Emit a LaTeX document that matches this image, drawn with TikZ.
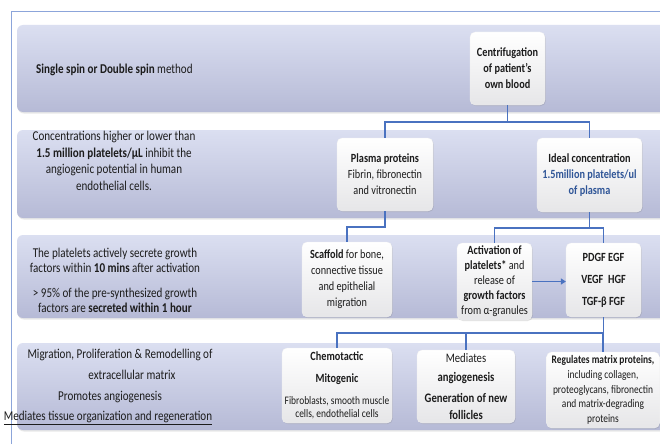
\documentclass[tikz,border=0pt]{standalone}
\usepackage{fontspec}
\setmainfont[FakeStretch=0.82]{Carlito}
\usetikzlibrary{shadows,arrows.meta}
\definecolor{bandtop}{RGB}{219,223,241}
\definecolor{bandbot}{RGB}{182,186,214}
\definecolor{connc}{RGB}{74,114,192}
\definecolor{framec}{RGB}{140,165,218}
\definecolor{boxbot}{RGB}{230,230,232}
\definecolor{txt}{RGB}{28,28,28}
\definecolor{idblue}{RGB}{47,85,151}
\newcommand\myfs[2]{\fontsize{#1}{#2}\selectfont}
\begin{document}
\begin{tikzpicture}[x=1pt,y=-1pt,
  band/.style={top color=bandtop,bottom color=bandbot,draw=none,rounded corners=6pt,
    drop shadow={opacity=0.18,shadow xshift=0.8pt,shadow yshift=-1.5pt}},
  box/.style={rectangle,rounded corners=5pt,top color=white,bottom color=boxbot,
    draw=white!88!gray,line width=0.3pt,align=center,inner sep=1pt,text=txt,
    drop shadow={opacity=0.22,shadow xshift=0.8pt,shadow yshift=-1pt}},
  bandtext/.style={align=center,text=txt,inner sep=0pt,font=\myfs{13.5}{16.5}},
  link/.style={draw=connc,line width=1.4pt},
]
\useasboundingbox (0,0) rectangle (660,444);
\fill[white] (0,0) rectangle (660,444);
% frame
\draw[framec,line width=0.9pt] (11,444) -- (11,11) -- (662,11);
% bands
\path[band] (17,25) rectangle (680,112);
\path[band] (17,130) rectangle (680,218);
\path[band] (17,235) rectangle (680,318);
\path[band] (17,343) rectangle (680,430);

% band texts
\node[bandtext,anchor=west] (t1) at (36,70) {\textbf{Single spin or Double spin} method};
\node[bandtext] (t2) at (114,161) {Concentrations higher or lower than\\
  \textbf{1.5 million platelets/µL} inhibit the\\angiogenic potential in human\\endothelial cells.};
\node[bandtext,font=\myfs{13.5}{15}] (t3) at (115,280) {The platelets actively secrete growth\\
  factors within \textbf{10 mins} after activation\\[10pt]
  > 95\% of the pre-synthesized growth\\factors are \textbf{secreted within 1 hour}};
\node[bandtext] (t4a) at (120,355) {Migration, Proliferation \& Remodelling of};
\node[bandtext] (t4b) at (132,375) {extracellular matrix};
\node[bandtext] (t4c) at (110,397) {Promotes angiogenesis};
\node[bandtext] (t4d) at (108,418) {\underline{Mediates tissue organization and regeneration}};

% boxes
\node[box,minimum width=75pt,minimum height=73pt,font=\myfs{12.5}{16}\bfseries] (cen) at (507.5,68.5)
  {Centrifugation\\of patient’s\\own blood};
\node[box,minimum width=96pt,minimum height=73pt,font=\myfs{12.5}{16}] (pla) at (385,174.5)
  {\textbf{Plasma proteins}\\Fibrin, fibronectin\\and vitronectin};
\node[box,minimum width=105pt,minimum height=74pt,font=\myfs{12.5}{16}] (ide) at (589.5,175)
  {\textbf{Ideal concentration}\\\textcolor{idblue}{\textbf{1.5million platelets/ul}}\\\textcolor{idblue}{\textbf{of plasma}}};
\node[box,minimum width=90pt,minimum height=75pt,font=\myfs{12.5}{16}] (sca) at (347,279.5)
  {\textbf{Scaffold} for bone,\\connective tissue\\and epithelial\\migration};
\node[box,minimum width=75pt,minimum height=77pt,font=\myfs{12.5}{15}] (act) at (494.5,281.5)
  {\textbf{Activation of}\\\textbf{platelets*} and\\release of\\\textbf{growth factors}\\from α-granules};
\node[box,minimum width=75pt,minimum height=74pt,font=\myfs{12.5}{16}\bfseries] (gf) at (603.5,280)
  {PDGF EGF\\[6pt]VEGF\ \ HGF\\[6pt]TGF-β FGF};
\node[box,minimum width=110pt,minimum height=75pt,font=\myfs{12.5}{16}] (che) at (337,385.5)
  {\textbf{Chemotactic}\\[6pt]\textbf{Mitogenic}\\[6pt]{\myfs{11.5}{13}Fibroblasts, smooth muscle}\\[-3pt]{\myfs{11.5}{13}cells, endothelial cells}};
\node[box,minimum width=98pt,minimum height=73pt,font=\myfs{13}{17}] (med) at (466,386.5)
  {Mediates\\[2pt]\textbf{angiogenesis}\\[4pt]\textbf{Generation of new}\\\textbf{follicles}};
\node[box,minimum width=113pt,minimum height=76pt,font=\myfs{11.5}{14.75}] (reg) at (603,390)
  {\textbf{Regulates matrix proteins,}\\including collagen,\\proteoglycans, fibronectin\\and matrix-degrading\\proteins};

% connectors
\coordinate (j1) at (507.5,122);
\coordinate (j2) at (385,227);
\coordinate (j3) at (589.5,228);
\coordinate (j4) at (603.5,333);
\draw[link] (cen.south) -- (j1);
\draw[link] (pla.north) |- (j1) -| (ide.north);
\draw[link] (pla.south) -- (j2) -| (sca.north);
\draw[link] (ide.south) -- (j3);
\draw[link] (act.north) |- (j3) -| (gf.north);
\draw[link] (gf.south) -- (j4);
\draw[link] (che.north) |- (j4) -| (reg.north);
\draw[link] (med.north) -- (med.north |- j4);
\draw[link,-{Triangle[length=5pt,width=6pt]}] (act.east) -- (act.east -| gf.west);
\end{tikzpicture}
\end{document}
